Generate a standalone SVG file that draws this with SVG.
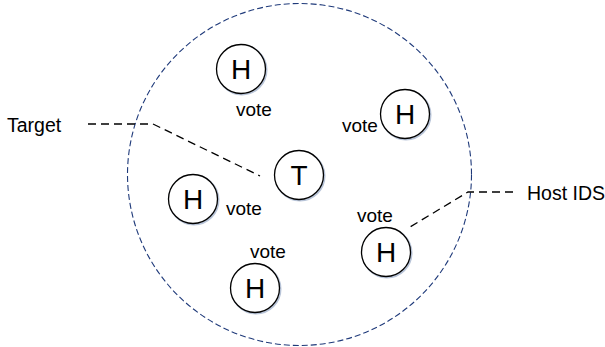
<svg xmlns="http://www.w3.org/2000/svg" width="605" height="347" viewBox="0 0 605 347">
<style>
.n{fill:#fff;stroke:#000;stroke-width:1.3}
.sh{fill:none;stroke:#b8c4d8;stroke-width:2}
.l{font-family:"Liberation Sans",Arial,sans-serif;font-size:28px;fill:#000;text-anchor:middle}
.v{font-family:"Liberation Sans",Arial,sans-serif;font-size:19px;fill:#000}
.t{font-family:"Liberation Sans",Arial,sans-serif;font-size:19.5px;fill:#000}
.c{fill:none;stroke:#000;stroke-width:1.3;stroke-dasharray:8 5}
</style>
<rect width="605" height="347" fill="#fff"/>
<ellipse id="boundary" cx="299.5" cy="174.5" rx="172" ry="171" fill="none" stroke="#1f3a7a" stroke-width="1.1" stroke-dasharray="6 3"/>
<g id="connectors">
<polyline class="c" points="88,124 153,124 260,176"/>
<polyline class="c" points="513,192 468,192 410,227"/>
</g>
<g id="h1"><circle class="sh" cx="242" cy="70" r="24.5"/><circle class="n" cx="241" cy="69" r="24.5"/><text class="l" x="241" y="79">H</text><text class="v" x="236" y="116">vote</text></g>
<g id="h2"><circle class="sh" cx="406" cy="115" r="24.5"/><circle class="n" cx="405" cy="114" r="24.5"/><text class="l" x="405" y="124">H</text><text class="v" x="342" y="132">vote</text></g>
<g id="t"><circle class="sh" cx="300" cy="176" r="24.5"/><circle class="n" cx="299" cy="175" r="24.5"/><text class="l" x="299" y="185">T</text></g>
<g id="h3"><circle class="sh" cx="194" cy="200" r="24.5"/><circle class="n" cx="193" cy="199" r="24.5"/><text class="l" x="193" y="209">H</text><text class="v" x="226" y="215">vote</text></g>
<g id="h4"><circle class="sh" cx="256" cy="289" r="24.5"/><circle class="n" cx="255" cy="288" r="24.5"/><text class="l" x="255" y="298">H</text><text class="v" x="250" y="258">vote</text></g>
<g id="h5"><circle class="sh" cx="387" cy="253" r="24.5"/><circle class="n" cx="386" cy="252" r="24.5"/><text class="l" x="386" y="262">H</text><text class="v" x="357" y="222">vote</text></g>
<g id="target"><text class="t" x="7" y="132">Target</text></g>
<g id="hostids"><text class="t" x="527" y="200">Host IDS</text></g>
</svg>
